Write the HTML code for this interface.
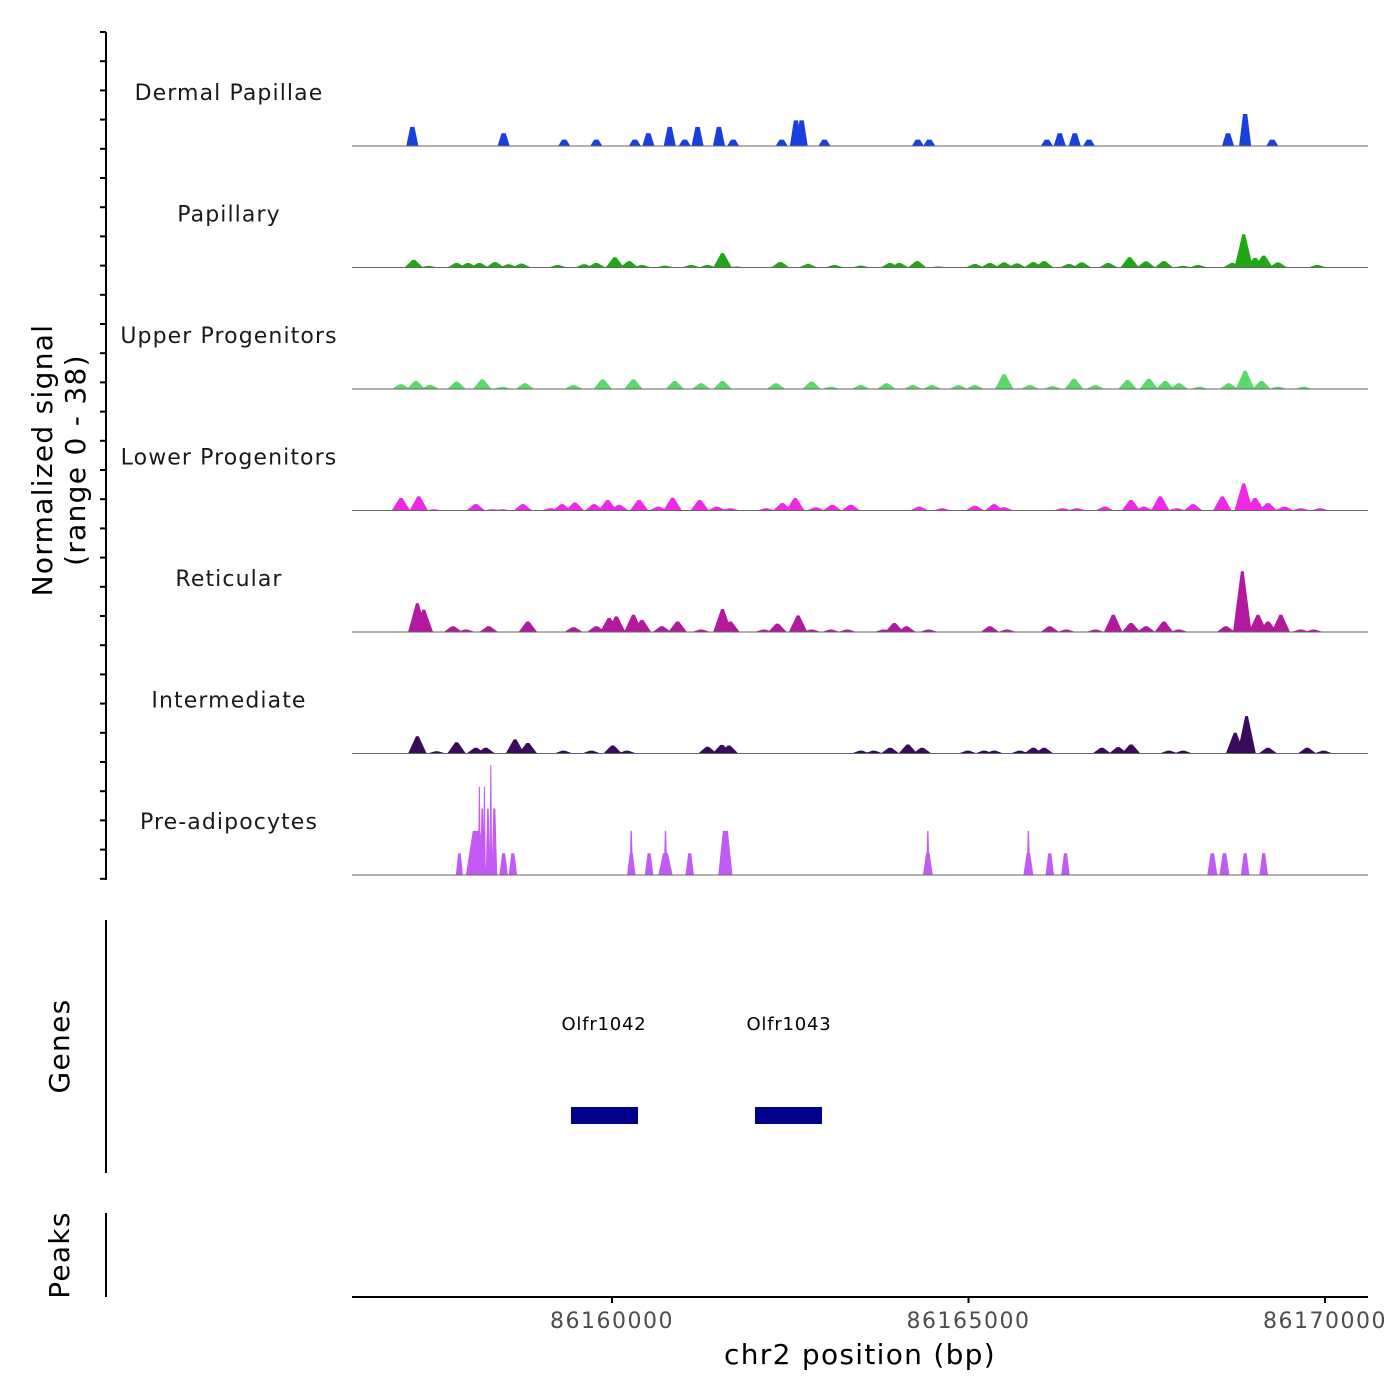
<!DOCTYPE html>
<html><head><meta charset="utf-8"><style>
body{margin:0;background:#fff}
svg{display:block;font-family:"DejaVu Sans","Liberation Sans",sans-serif}
</style></head><body>
<svg id="chart" width="1400" height="1400" viewBox="0 0 1400 1400">
<g id="tracks"></g>
<g>
<line x1="106" y1="32" x2="106" y2="880" stroke="#000" stroke-width="2"/>
<g id="yticks"></g>
<text transform="translate(52,460) rotate(-90)" text-anchor="middle" font-size="28" letter-spacing="1.3" fill="#000">Normalized signal</text>
<text transform="translate(85,460) rotate(-90)" text-anchor="middle" font-size="28" letter-spacing="1.3" fill="#000">(range 0 - 38)</text>
</g>
<g>
<line x1="106" y1="920" x2="106" y2="1173" stroke="#000" stroke-width="2"/>
<text transform="translate(69,1046) rotate(-90)" text-anchor="middle" font-size="28" letter-spacing="1.3">Genes</text>
<text x="604" y="1030" text-anchor="middle" font-size="18" letter-spacing="0.8">Olfr1042</text>
<text x="789" y="1030" text-anchor="middle" font-size="18" letter-spacing="0.8">Olfr1043</text>
<rect x="571" y="1107" width="67" height="17" fill="#00008b"/>
<rect x="755" y="1107" width="67" height="17" fill="#00008b"/>
</g>
<g>
<line x1="106" y1="1213" x2="106" y2="1297" stroke="#000" stroke-width="2"/>
<text transform="translate(69,1255) rotate(-90)" text-anchor="middle" font-size="28" letter-spacing="1.3">Peaks</text>
</g>
<g>
<line x1="352" y1="1297" x2="1368" y2="1297" stroke="#000" stroke-width="2"/>
<g id="xticks"></g>
<text x="860" y="1364" text-anchor="middle" font-size="28" letter-spacing="1.3">chr2 position (bp)</text>
</g>
</svg>
<script>
const xTicks=[86160000,86165000,86170000];
const trackNames=["Dermal Papillae","Papillary","Upper Progenitors","Lower Progenitors","Reticular","Intermediate","Pre-adipocytes"];
const trackColors=["#1740dc","#1fa814","#5ad96a","#ee28e6","#b3199f","#3a0a5c","#c25bf6"];
const dpPos=[86157.2,86158.48,86159.33,86159.78,86160.32,86160.51,86160.81,86161.02,86161.2,86161.5,86161.7,86162.38,86162.58,86162.66,86162.98,86164.29,86164.45,86166.1,86166.28,86166.49,86166.69,86168.64,86168.88,86169.26];
const dpVal=[6,4,2,2,2,4,6,2,6,6,2,2,8,8,2,2,2,2,4,4,2,4,10,2];
const paPos=[86157.22,86157.43,86157.82,86157.98,86158.14,86158.36,86158.55,86158.73,86159.24,86159.61,86159.78,86160.04,86160.24,86160.42,86160.74,86161.11,86161.34,86161.55,86161.75,86162.36,86162.75,86163.12,86163.49,86163.9,86164.03,86164.28,86164.58,86165.09,86165.3,86165.5,86165.68,86165.91,86166.06,86166.41,86166.59,86166.96,86167.26,86167.49,86167.74,86168.01,86168.22,86168.7,86168.86,86169.02,86169.14,86169.34,86169.89];
const paVal=[2.4,0.5,1.4,1.4,1.4,1.7,1,1.2,0.8,1,1.4,3.2,2,0.8,0.6,0.8,0.8,4.5,0.3,1.7,1.1,0.8,0.6,1.4,1.4,2,0.3,1.1,1.4,1.6,1.3,1.7,2,1.1,1.6,1.4,3.2,1.9,2,0.5,0.8,1.4,10.4,3,3.7,1.6,0.8];
const upPos=[86157.04,86157.25,86157.45,86157.82,86158.18,86158.46,86158.78,86159.46,86159.87,86160.3,86160.88,86161.25,86161.55,86162.3,86162.8,86163.07,86163.49,86163.85,86164.22,86164.49,86164.86,86165.09,86165.5,86165.86,86166.18,86166.48,86166.78,86167.23,86167.53,86167.76,86167.95,86168.24,86168.65,86168.88,86169.11,86169.34,86169.7];
const upVal=[1.5,2.5,1.3,2.3,3,0.7,1.8,1.2,3,3,2.5,1.8,2.5,1.8,2.3,0.7,1.2,1.8,1.2,1.2,1.2,1.2,4.6,1.2,0.9,3.2,1.2,2.8,3.2,2.5,1.8,0.7,1.8,5.7,2.5,0.7,0.7];
const loPos=[86157.04,86157.29,86157.5,86158.09,86158.32,86158.46,86158.75,86159.14,86159.3,86159.48,86159.75,86159.94,86160.1,86160.38,86160.65,86160.85,86161.23,86161.47,86161.66,86162.16,86162.39,86162.57,86162.86,86163.09,86163.35,86164.31,86164.63,86165.09,86165.36,86165.5,86166.32,86166.52,86166.91,86167.28,86167.46,86167.69,86167.92,86168.15,86168.56,86168.86,86169.02,86169.2,86169.43,86169.66,86169.93];
const loVal=[3.9,4.4,0.4,2,0.4,0.4,2,0.7,2,2.5,2,3.3,1.8,3.3,1.2,4,3.3,1.2,0.7,0.7,2.3,3.9,1,1.8,1.8,1.2,0.7,1.5,2,1,0.7,0.7,1.2,3.3,1.2,4.4,0.7,2,4.4,8.5,3.9,2.3,1.2,0.7,0.7];
const rePos=[86157.27,86157.36,86157.77,86157.95,86158.27,86158.82,86159.46,86159.78,86159.96,86160.06,86160.3,86160.42,86160.7,86160.92,86161.25,86161.55,86161.66,86162.13,86162.32,86162.61,86162.8,86163.07,86163.3,86163.81,86163.96,86164.13,86164.44,86165.3,86165.54,86166.14,86166.37,86166.78,86167.03,86167.28,86167.49,86167.74,86167.95,86168.61,86168.84,86169.06,86169.2,86169.38,86169.66,86169.84];
const reVal=[9,7,1.8,0.8,1.8,3.3,1.5,1.8,4.4,4.9,5.4,3.8,1.8,3.3,0.8,7.2,3.3,0.8,2.6,5.2,0.8,0.8,0.8,0.8,2.8,1.8,0.8,1.8,0.8,1.8,0.8,0.8,5.4,2.8,1.8,3.3,0.8,1.8,19,5.4,3.3,5.4,0.8,0.8];
const inPos=[86157.27,86157.54,86157.82,86158.09,86158.23,86158.64,86158.82,86159.32,86159.71,86160.01,86160.21,86161.34,86161.54,86161.64,86163.49,86163.67,86163.9,86164.15,86164.35,86164.99,86165.22,86165.36,86165.72,86165.91,86166.06,86166.87,86167.1,86167.28,86167.81,86168.01,86168.74,86168.9,86169.2,86169.75,86169.98];
const inVal=[5.4,0.7,3.5,1.8,1.8,4.4,3.3,0.9,0.9,2.5,0.9,2.1,2.7,2.5,0.9,0.9,1.8,2.8,1.8,0.9,0.9,0.9,0.9,1.8,1.8,1.8,2,2.8,0.9,0.9,6.5,11.7,1.8,1.8,0.9];
const preadPos=[86157.86,86158.1,86158.14,86158.18,86158.21,86158.26,86158.3,86158.35,86158.48,86158.61,86160.27,86160.27,86160.52,86160.75,86160.75,86161.09,86161.59,86164.43,86164.43,86165.84,86165.84,86166.14,86166.36,86168.42,86168.59,86168.88,86169.14];
const preadVal=[6.8,13.8,27.6,20.8,27.6,20.8,34.4,20.8,6.8,6.8,6.8,13.8,6.8,6.8,13.8,6.8,13.8,6.8,13.8,6.8,13.8,6.8,6.8,6.8,6.8,6.8,6.8];
const preadWid=[0.1,0.3,0.04,0.06,0.04,0.06,0.04,0.08,0.12,0.12,0.12,0.05,0.12,0.2,0.05,0.12,0.2,0.14,0.05,0.14,0.05,0.12,0.12,0.14,0.14,0.12,0.12];
const trackPos=[dpPos,paPos,upPos,loPos,rePos,inPos,preadPos];
const trackVal=[dpVal,paVal,upVal,loVal,reVal,inVal,preadVal];
const yMax=38;

const NS="http://www.w3.org/2000/svg";
const X0=86160,PX0=612,PXPERKB=71.3;
function xs(kb){return PX0+(kb-X0)*PXPERKB;}
const base0=146,trackH=121.5;
function ys(i,v){return base0+i*trackH-v/yMax*trackH;}
const tracks=document.getElementById('tracks');
trackNames.forEach((name,i)=>{
  const g=document.createElementNS(NS,'g');
  
  
  const t=document.createElementNS(NS,'text');
  t.setAttribute('x',229);t.setAttribute('y',base0+i*trackH-46);
  t.setAttribute('text-anchor','middle');t.setAttribute('font-size','22');t.setAttribute('letter-spacing','1.1');t.setAttribute('fill','#1a1a1a');
  t.textContent=name;
  
  
  g.appendChild(t);
  const b=base0+i*trackH;
  const P=trackPos[i],V=trackVal[i];
  for(let k=0;k<P.length;k++){
    const w=(i===6?preadWid[k]:(i===0?0.17:0.26));
    const top=(i===6||i===0)?w*0.35:w*0.15;
    const x1=xs(P[k]-w/2),x2=xs(P[k]-top/2),x3=xs(P[k]+top/2),x4=xs(P[k]+w/2);
    const yt=ys(i,V[k]);
    const p=document.createElementNS(NS,'polygon');
    p.setAttribute('points',`${x1},${b} ${x2},${yt} ${x3},${yt} ${x4},${b}`);
    p.setAttribute('fill',trackColors[i]);
    
    
    g.appendChild(p);
  }
  const l=document.createElementNS(NS,'line');
  l.setAttribute('x1',352);l.setAttribute('x2',1368);l.setAttribute('y1',b);l.setAttribute('y2',b);
  l.setAttribute('stroke','#666');l.setAttribute('stroke-width','1');
  
  
  g.appendChild(l);
  tracks.appendChild(g);
});
const yt=document.getElementById('yticks');
for(let y=32;y<=880;y+=29.2){
  const l=document.createElementNS(NS,'line');
  l.setAttribute('x1',100);l.setAttribute('x2',106);l.setAttribute('y1',y);l.setAttribute('y2',y);
  l.setAttribute('stroke','#000');l.setAttribute('stroke-width','2');
  
  
  yt.appendChild(l);
}
const xt=document.getElementById('xticks');
xTicks.forEach(v=>{
  const x=xs(v/1000);
  const l=document.createElementNS(NS,'line');
  l.setAttribute('x1',x);l.setAttribute('x2',x);l.setAttribute('y1',1297);l.setAttribute('y2',1303);
  l.setAttribute('stroke','#000');l.setAttribute('stroke-width','2');
  
  
  xt.appendChild(l);
  const t=document.createElementNS(NS,'text');
  t.setAttribute('x',x);t.setAttribute('y',1328);t.setAttribute('text-anchor','middle');
  t.setAttribute('font-size','22');t.setAttribute('letter-spacing','1.5');t.setAttribute('fill','#4d4d4d');
  t.textContent=v;
  
  
  xt.appendChild(t);
});
</script>
</body></html>
